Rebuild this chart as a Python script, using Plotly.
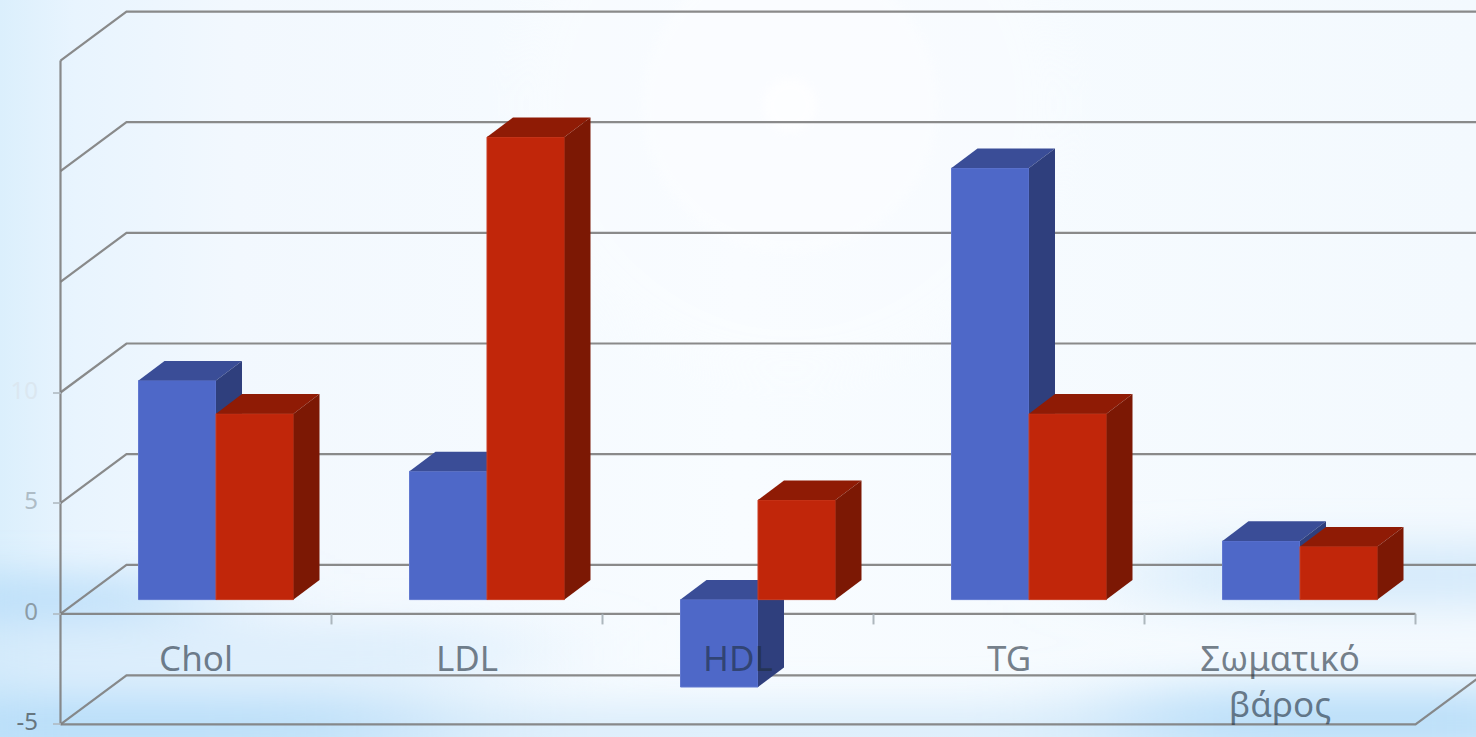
import base64
import numpy as np
import plotly.graph_objects as go

categories = ["Chol", "LDL", "HDL", "TG", "Σωματικό<br>βάρος"]
blue_values = [9.9, 5.8, -3.95, 19.5, 2.65]
red_values = [8.4, 20.9, 4.5, 8.4, 2.4]
y_ticks = [-5, 0, 5, 10]
y_tick_labels = ["-5", "0", "5", "10"]
y_tick_colors = ["#66767f", "#8c9ca6", "#aebcc6", "#dbe7f0"]
grid_levels = [-5, 0, 5, 10, 15, 20, 25]

W, H = 1476, 737
CAT_PX = 271.0
CENTER0_PX = 196.0
UNIT_PX = 22.13
ZERO_PX = 613.8
BAR_ZERO_PX = 599.6


def xr(p):
    return (p - CENTER0_PX) / CAT_PX


def yr(p, zero=ZERO_PX):
    return (zero - p) / UNIT_PX


x_pos = np.arange(len(categories))
X0, X1 = -0.5, len(categories) - 0.5
WALL_DX, WALL_DY = 66 / CAT_PX, 49 / UNIT_PX
BAR_DX, BAR_DY = 26 / CAT_PX, 19.6 / UNIT_PX
BAR_W = 77.5 / CAT_PX
BLUE_OFF = -57.5 / CAT_PX
RED_OFF = BLUE_OFF + BAR_W
GRID = "rgba(128,128,128,0.92)"
LW = 2.2

svg = f'''<svg xmlns="http://www.w3.org/2000/svg" width="{W}" height="{H}" viewBox="0 0 {W} {H}">
<defs>
<linearGradient id="l" x1="0" x2="1" y1="0" y2="0">
<stop offset="0" stop-color="#dbeffc"/><stop offset="0.05" stop-color="#e8f4fe"/>
<stop offset="0.16" stop-color="#f2f8fe"/><stop offset="0.5" stop-color="#f8fcff"/>
<stop offset="1" stop-color="#f3f9fe"/></linearGradient>
<filter id="b1" x="-60%" y="-300%" width="220%" height="700%"><feGaussianBlur stdDeviation="70 20"/></filter>
<filter id="b2" x="-20%" y="-20%" width="140%" height="140%"><feGaussianBlur stdDeviation="5"/></filter>
<filter id="b3" x="-20%" y="-20%" width="140%" height="140%"><feGaussianBlur stdDeviation="20"/></filter>
</defs>
<rect width="{W}" height="{H}" fill="url(#l)"/>
<g filter="url(#b1)">
<rect x="-100" y="578" width="300" height="40" fill="#a9d6f7" opacity="0.75"/>
<rect x="-100" y="625" width="620" height="50" fill="#cde6fa" opacity="0.6"/>
<rect x="-100" y="692" width="540" height="70" fill="#b2daf8" opacity="0.85"/>
<rect x="1150" y="545" width="450" height="60" fill="#bfe0f8" opacity="0.6"/>
<rect x="1120" y="688" width="480" height="70" fill="#b2daf8" opacity="0.85"/>
<rect x="350" y="705" width="800" height="50" fill="#cfe7fa" opacity="0.75"/>
</g>
<circle cx="790" cy="105" r="275" fill="#ffffff" opacity="0.22" filter="url(#b3)"/>
<circle cx="790" cy="105" r="148" fill="#ffffff" opacity="0.3" filter="url(#b2)"/>
<circle cx="790" cy="105" r="27" fill="#ffffff" opacity="0.7" filter="url(#b2)"/>
</svg>'''
bg_uri = "data:image/svg+xml;base64," + base64.b64encode(svg.encode()).decode()

fig = go.Figure()

for v in grid_levels:
    fig.add_trace(go.Scatter(
        x=[X0, X0 + WALL_DX, X1 + WALL_DX], y=[v, v + WALL_DY, v + WALL_DY],
        mode="lines", line=dict(color=GRID, width=LW), hoverinfo="skip", showlegend=False))
fig.add_trace(go.Scatter(
    x=[X0, X0], y=[min(grid_levels), max(grid_levels)],
    mode="lines", line=dict(color=GRID, width=LW), hoverinfo="skip", showlegend=False))
fig.add_trace(go.Scatter(
    x=[X0, X1, X1 + WALL_DX], y=[-5, -5, -5 + WALL_DY],
    mode="lines", line=dict(color=GRID, width=LW), hoverinfo="skip", showlegend=False))
fig.add_trace(go.Scatter(
    x=[X0, X1], y=[0, 0],
    mode="lines", line=dict(color=GRID, width=LW), hoverinfo="skip", showlegend=False))
tx, ty = [], []
for b in x_pos + 0.5:
    tx += [b, b, None]
    ty += [0, -0.48, None]
fig.add_trace(go.Scatter(
    x=tx, y=ty, mode="lines", line=dict(color="rgba(165,175,182,0.9)", width=2),
    hoverinfo="skip", showlegend=False))


def add_series(name, values, offset, front, edge, top, side, yaxis):
    fig.add_trace(go.Bar(
        x=x_pos, y=values, base=0, width=BAR_W, offset=offset, name=name, yaxis=yaxis,
        marker=dict(color=front, line=dict(color=edge, width=1)), showlegend=False))
    for xc, v in zip(x_pos, values):
        left = xc + offset
        right = left + BAR_W
        hi, lo = max(v, 0), min(v, 0)
        fig.add_trace(go.Scatter(
            x=[left, left + BAR_DX, right + BAR_DX, right, left],
            y=[hi, hi + BAR_DY, hi + BAR_DY, hi, hi],
            mode="lines", fill="toself", fillcolor=top, line=dict(width=0),
            yaxis=yaxis, hoverinfo="skip", showlegend=False))
        fig.add_trace(go.Scatter(
            x=[right, right + BAR_DX, right + BAR_DX, right, right],
            y=[hi, hi + BAR_DY, lo + BAR_DY, lo, hi],
            mode="lines", fill="toself", fillcolor=side, line=dict(width=0),
            yaxis=yaxis, hoverinfo="skip", showlegend=False))


add_series("Blue", blue_values, BLUE_OFF, "#4e68c8", "#6178d0", "#3a4d97", "#2f3f7d", "y2")
add_series("Red", red_values, RED_OFF, "#c1260a", "#c93c22", "#8f1b05", "#7c1804", "y3")

# Category labels
fig.add_trace(go.Scatter(
    x=x_pos, y=[yr(645)] * len(categories), text=categories, mode="text",
    textposition="bottom center",
    textfont=dict(family="Noto Sans", size=35, color="rgba(30,45,60,0.6)"),
    yaxis="y4", hoverinfo="skip", showlegend=False, cliponaxis=False))

# Value labels: a text trace, so the lowest one stays on the page
fig.add_trace(go.Scatter(
    x=[xr(38)] * len(y_ticks), y=y_ticks, text=y_tick_labels, mode="text",
    textposition="middle left",
    textfont=dict(family="Noto Sans", size=24, color=y_tick_colors),
    yaxis="y4", hoverinfo="skip", showlegend=False, cliponaxis=False))

base_range = [yr(H), yr(0)]
bar_range = [yr(H, BAR_ZERO_PX), yr(0, BAR_ZERO_PX)]
fig.update_layout(
    width=W, height=H,
    margin=dict(l=0, r=0, t=0, b=0),
    paper_bgcolor="#f4faff", plot_bgcolor="rgba(0,0,0,0)",
    barmode="overlay", showlegend=False,
    images=[dict(source=bg_uri, xref="paper", yref="paper", x=0, y=1,
                 sizex=1, sizey=1, sizing="stretch", xanchor="left", yanchor="top", layer="below")],
    xaxis=dict(range=[xr(0), xr(W)], visible=False, domain=[0, 1]),
    yaxis=dict(range=base_range, anchor="free", position=60.5 / W, domain=[0, 1],
               tickmode="array", tickvals=y_ticks, ticktext=[""] * len(y_ticks),
               ticks="outside", ticklen=8, tickwidth=2, tickcolor="rgba(175,185,192,0.8)",
               showgrid=False, zeroline=False, showline=False),
    yaxis2=dict(range=bar_range, overlaying="y", visible=False),
    yaxis3=dict(range=bar_range, overlaying="y", visible=False),
    yaxis4=dict(range=base_range, overlaying="y", visible=False),
)
fig.write_html("out.html", config={"displayModeBar": False},
               post_script="document.body.style.margin='0';document.body.style.overflow='hidden';")
